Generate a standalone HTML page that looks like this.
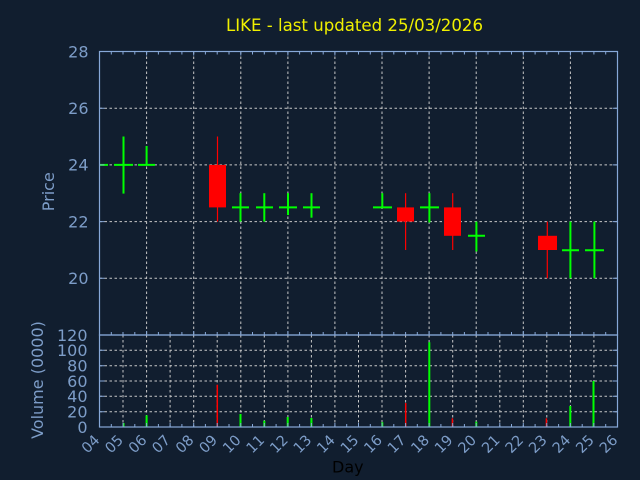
<!DOCTYPE html>
<html><head><meta charset="utf-8"><style>
html,body{margin:0;padding:0;background:#111e2f;}
svg{display:block;}
text{font-family:"DejaVu Sans","Liberation Sans",sans-serif;}
</style></head><body>
<svg width="640" height="480" viewBox="0 0 640 480" xmlns="http://www.w3.org/2000/svg">
<rect x="0" y="0" width="640" height="480" fill="#111e2f"/>
<!-- title -->
<text x="226" y="31" font-size="16.5" fill="#f0f000" textLength="257" lengthAdjust="spacingAndGlyphs">LIKE - last updated 25/03/2026</text>

<!-- price grid -->
<g stroke="#c8c8c8" stroke-width="1" stroke-dasharray="2.5,2.5" fill="none">
<line x1="99.5" y1="108.2" x2="617.5" y2="108.2"/>
<line x1="99.5" y1="164.9" x2="617.5" y2="164.9"/>
<line x1="99.5" y1="221.6" x2="617.5" y2="221.6"/>
<line x1="99.5" y1="278.3" x2="617.5" y2="278.3"/>
<line x1="146.6" y1="51.5" x2="146.6" y2="335"/>
<line x1="193.7" y1="51.5" x2="193.7" y2="335"/>
<line x1="240.8" y1="51.5" x2="240.8" y2="335"/>
<line x1="287.9" y1="51.5" x2="287.9" y2="335"/>
<line x1="334.9" y1="51.5" x2="334.9" y2="335"/>
<line x1="382.0" y1="51.5" x2="382.0" y2="335"/>
<line x1="429.1" y1="51.5" x2="429.1" y2="335"/>
<line x1="476.2" y1="51.5" x2="476.2" y2="335"/>
<line x1="523.3" y1="51.5" x2="523.3" y2="335"/>
<line x1="570.4" y1="51.5" x2="570.4" y2="335"/>
</g>
<!-- volume grid -->
<g stroke="#c8c8c8" stroke-width="1" stroke-dasharray="2.5,2.5" fill="none">
<line x1="99.5" y1="350.3" x2="617.5" y2="350.3"/>
<line x1="99.5" y1="365.7" x2="617.5" y2="365.7"/>
<line x1="99.5" y1="381.0" x2="617.5" y2="381.0"/>
<line x1="99.5" y1="396.3" x2="617.5" y2="396.3"/>
<line x1="99.5" y1="411.7" x2="617.5" y2="411.7"/>
<line x1="123.0" y1="335" x2="123.0" y2="427"/>
<line x1="146.6" y1="335" x2="146.6" y2="427"/>
<line x1="170.1" y1="335" x2="170.1" y2="427"/>
<line x1="193.7" y1="335" x2="193.7" y2="427"/>
<line x1="217.2" y1="335" x2="217.2" y2="427"/>
<line x1="240.8" y1="335" x2="240.8" y2="427"/>
<line x1="264.3" y1="335" x2="264.3" y2="427"/>
<line x1="287.9" y1="335" x2="287.9" y2="427"/>
<line x1="311.4" y1="335" x2="311.4" y2="427"/>
<line x1="334.9" y1="335" x2="334.9" y2="427"/>
<line x1="358.5" y1="335" x2="358.5" y2="427"/>
<line x1="382.0" y1="335" x2="382.0" y2="427"/>
<line x1="405.6" y1="335" x2="405.6" y2="427"/>
<line x1="429.1" y1="335" x2="429.1" y2="427"/>
<line x1="452.7" y1="335" x2="452.7" y2="427"/>
<line x1="476.2" y1="335" x2="476.2" y2="427"/>
<line x1="499.8" y1="335" x2="499.8" y2="427"/>
<line x1="523.3" y1="335" x2="523.3" y2="427"/>
<line x1="546.8" y1="335" x2="546.8" y2="427"/>
<line x1="570.4" y1="335" x2="570.4" y2="427"/>
<line x1="593.9" y1="335" x2="593.9" y2="427"/>
</g>

<!-- candles -->
<g>
<!-- red wicks -->
<g stroke="#ff0000" stroke-width="1.2">
<line x1="217.5" y1="136.5" x2="217.5" y2="221.6"/>
<line x1="405.6" y1="193.2" x2="405.6" y2="250"/>
<line x1="452.7" y1="193.2" x2="452.7" y2="250"/>
<line x1="547.3" y1="221.6" x2="547.3" y2="278.3"/>
</g>
<g fill="#ff0000">
<rect x="209" y="164.9" width="17" height="42.5"/>
<rect x="397" y="207.4" width="17" height="14.2"/>
<rect x="444" y="207.4" width="17" height="28.4"/>
<rect x="538" y="235.8" width="19" height="14.2"/>
</g>
<!-- green -->
<g stroke="#00ff00" stroke-width="2">
<line x1="99.5" y1="164.9" x2="108" y2="164.9"/>
<line x1="123.5" y1="136.5" x2="123.5" y2="193.6"/>
<line x1="114" y1="164.9" x2="133" y2="164.9"/>
<line x1="146.6" y1="146" x2="146.6" y2="164.9"/>
<line x1="138" y1="164.9" x2="155" y2="164.9"/>
<line x1="240.5" y1="193.2" x2="240.5" y2="221.6"/>
<line x1="232" y1="207.4" x2="249" y2="207.4"/>
<line x1="264.3" y1="193.2" x2="264.3" y2="221.6"/>
<line x1="256" y1="207.4" x2="273" y2="207.4"/>
<line x1="288" y1="193.2" x2="288" y2="215"/>
<line x1="279" y1="207.4" x2="297" y2="207.4"/>
<line x1="311.5" y1="193.2" x2="311.5" y2="217.7"/>
<line x1="303" y1="207.4" x2="320" y2="207.4"/>
<line x1="382.3" y1="193.2" x2="382.3" y2="207.4"/>
<line x1="373" y1="207.4" x2="392" y2="207.4"/>
<line x1="429.4" y1="193.2" x2="429.4" y2="222.5"/>
<line x1="420" y1="207.4" x2="439" y2="207.4"/>
<line x1="476.4" y1="221.6" x2="476.4" y2="251.5"/>
<line x1="468" y1="235.8" x2="485" y2="235.8"/>
<line x1="570.4" y1="221.6" x2="570.4" y2="278.3"/>
<line x1="562" y1="250.3" x2="579" y2="250.3"/>
<line x1="594.4" y1="221.6" x2="594.4" y2="278.3"/>
<line x1="585" y1="250.3" x2="604" y2="250.3"/>
</g>
</g>

<!-- volume bars -->
<g stroke="#00ff00" stroke-width="2">
<line x1="123.5" y1="423" x2="123.5" y2="427"/>
<line x1="146.6" y1="415.3" x2="146.6" y2="427"/>
<line x1="240.5" y1="414" x2="240.5" y2="427"/>
<line x1="264.3" y1="420.7" x2="264.3" y2="427"/>
<line x1="287.7" y1="417" x2="287.7" y2="427"/>
<line x1="311.4" y1="418" x2="311.4" y2="427"/>
<line x1="382.3" y1="422.3" x2="382.3" y2="427"/>
<line x1="429.3" y1="342.3" x2="429.3" y2="427"/>
<line x1="476.3" y1="421.7" x2="476.3" y2="427"/>
<line x1="570.3" y1="406" x2="570.3" y2="427"/>
<line x1="593.5" y1="381" x2="593.5" y2="427"/>
</g>
<g stroke="#ff0000" stroke-width="1.5">
<line x1="217.3" y1="384.7" x2="217.3" y2="427"/>
<line x1="405.7" y1="403" x2="405.7" y2="427"/>
<line x1="452.4" y1="418.3" x2="452.4" y2="427"/>
<line x1="546.4" y1="418.3" x2="546.4" y2="427"/>
</g>

<!-- axes -->
<g stroke="#87a8d8" stroke-width="1.2" fill="none">
<rect x="99.5" y="51.5" width="518" height="283.5"/>
<rect x="99.5" y="335" width="518" height="92"/>
</g>
<!-- ticks -->
<g stroke="#87a8d8" stroke-width="1">
<path d="M99.5 108.2h5M99.5 164.9h5M99.5 221.6h5M99.5 278.3h5M617.5 108.2h-5M617.5 164.9h-5M617.5 221.6h-5M617.5 278.3h-5"/>
<path d="M99.5 350.3h5M99.5 365.7h5M99.5 381h5M99.5 396.3h5M99.5 411.7h5M617.5 350.3h-5M617.5 365.7h-5M617.5 381h-5M617.5 396.3h-5M617.5 411.7h-5"/>
<path d="M111.3 51.5v3M123 51.5v3M134.8 51.5v3M146.6 51.5v4M158.4 51.5v3M170.1 51.5v3M181.9 51.5v3M193.7 51.5v4M205.4 51.5v3M217.2 51.5v3M229 51.5v3M240.8 51.5v4M252.5 51.5v3M264.3 51.5v3M276.1 51.5v3M287.9 51.5v4M299.6 51.5v3M311.4 51.5v3M323.2 51.5v3M334.9 51.5v4M346.7 51.5v3M358.5 51.5v3M370.3 51.5v3M382 51.5v4M393.8 51.5v3M405.6 51.5v3M417.3 51.5v3M429.1 51.5v4M440.9 51.5v3M452.7 51.5v3M464.4 51.5v3M476.2 51.5v4M488 51.5v3M499.8 51.5v3M511.5 51.5v3M523.3 51.5v4M535.1 51.5v3M546.8 51.5v3M558.6 51.5v3M570.4 51.5v4M582.2 51.5v3M593.9 51.5v3M605.7 51.5v3"/>
<path d="M111.3 335v-3M123 335v-3M134.8 335v-3M146.6 335v-4M158.4 335v-3M170.1 335v-3M181.9 335v-3M193.7 335v-4M205.4 335v-3M217.2 335v-3M229 335v-3M240.8 335v-4M252.5 335v-3M264.3 335v-3M276.1 335v-3M287.9 335v-4M299.6 335v-3M311.4 335v-3M323.2 335v-3M334.9 335v-4M346.7 335v-3M358.5 335v-3M370.3 335v-3M382 335v-4M393.8 335v-3M405.6 335v-3M417.3 335v-3M429.1 335v-4M440.9 335v-3M452.7 335v-3M464.4 335v-3M476.2 335v-4M488 335v-3M499.8 335v-3M511.5 335v-3M523.3 335v-4M535.1 335v-3M546.8 335v-3M558.6 335v-3M570.4 335v-4M582.2 335v-3M593.9 335v-3M605.7 335v-3"/>
<path d="M111.3 427v-3M123 427v-4M134.8 427v-3M146.6 427v-4M158.4 427v-3M170.1 427v-4M181.9 427v-3M193.7 427v-4M205.4 427v-3M217.2 427v-4M229 427v-3M240.8 427v-4M252.5 427v-3M264.3 427v-4M276.1 427v-3M287.9 427v-4M299.6 427v-3M311.4 427v-4M323.2 427v-3M334.9 427v-4M346.7 427v-3M358.5 427v-4M370.3 427v-3M382 427v-4M393.8 427v-3M405.6 427v-4M417.3 427v-3M429.1 427v-4M440.9 427v-3M452.7 427v-4M464.4 427v-3M476.2 427v-4M488 427v-3M499.8 427v-4M511.5 427v-3M523.3 427v-4M535.1 427v-3M546.8 427v-4M558.6 427v-3M570.4 427v-4M582.2 427v-3M593.9 427v-4M605.7 427v-3"/>
</g>

<!-- y labels -->
<g font-size="16" fill="#7d9dc8" text-anchor="end">
<text x="88.5" y="57.3">28</text>
<text x="88.5" y="114">26</text>
<text x="88.5" y="170.7">24</text>
<text x="88.5" y="227.4">22</text>
<text x="88.5" y="284.1">20</text>
<text x="87.5" y="340.8">120</text>
<text x="87.5" y="356.1">100</text>
<text x="87.5" y="371.5">80</text>
<text x="87.5" y="386.8">60</text>
<text x="87.5" y="402.1">40</text>
<text x="87.5" y="417.5">20</text>
<text x="87.5" y="432.8">0</text>
</g>
<g font-size="16" fill="#7d9dc8" text-anchor="middle">
<text transform="translate(54,191.7) rotate(-90)">Price</text>
<text transform="translate(43,380) rotate(-90)">Volume (0000)</text>
</g>

<!-- x labels -->
<g font-size="14.5" fill="#7d9dc8" text-anchor="end">
<text transform="translate(100.5,441) rotate(-45)">04</text>
<text transform="translate(124,441) rotate(-45)">05</text>
<text transform="translate(147.6,441) rotate(-45)">06</text>
<text transform="translate(171.1,441) rotate(-45)">07</text>
<text transform="translate(194.7,441) rotate(-45)">08</text>
<text transform="translate(218.2,441) rotate(-45)">09</text>
<text transform="translate(241.8,441) rotate(-45)">10</text>
<text transform="translate(265.3,441) rotate(-45)">11</text>
<text transform="translate(288.9,441) rotate(-45)">12</text>
<text transform="translate(312.4,441) rotate(-45)">13</text>
<text transform="translate(335.9,441) rotate(-45)">14</text>
<text transform="translate(359.5,441) rotate(-45)">15</text>
<text transform="translate(383,441) rotate(-45)">16</text>
<text transform="translate(406.6,441) rotate(-45)">17</text>
<text transform="translate(430.1,441) rotate(-45)">18</text>
<text transform="translate(453.7,441) rotate(-45)">19</text>
<text transform="translate(477.2,441) rotate(-45)">20</text>
<text transform="translate(500.8,441) rotate(-45)">21</text>
<text transform="translate(524.3,441) rotate(-45)">22</text>
<text transform="translate(547.8,441) rotate(-45)">23</text>
<text transform="translate(571.4,441) rotate(-45)">24</text>
<text transform="translate(594.9,441) rotate(-45)">25</text>
<text transform="translate(618.5,441) rotate(-45)">26</text>
</g>
<text x="332" y="472.7" font-size="16" fill="#000000">Day</text>
</svg>
</body></html>
